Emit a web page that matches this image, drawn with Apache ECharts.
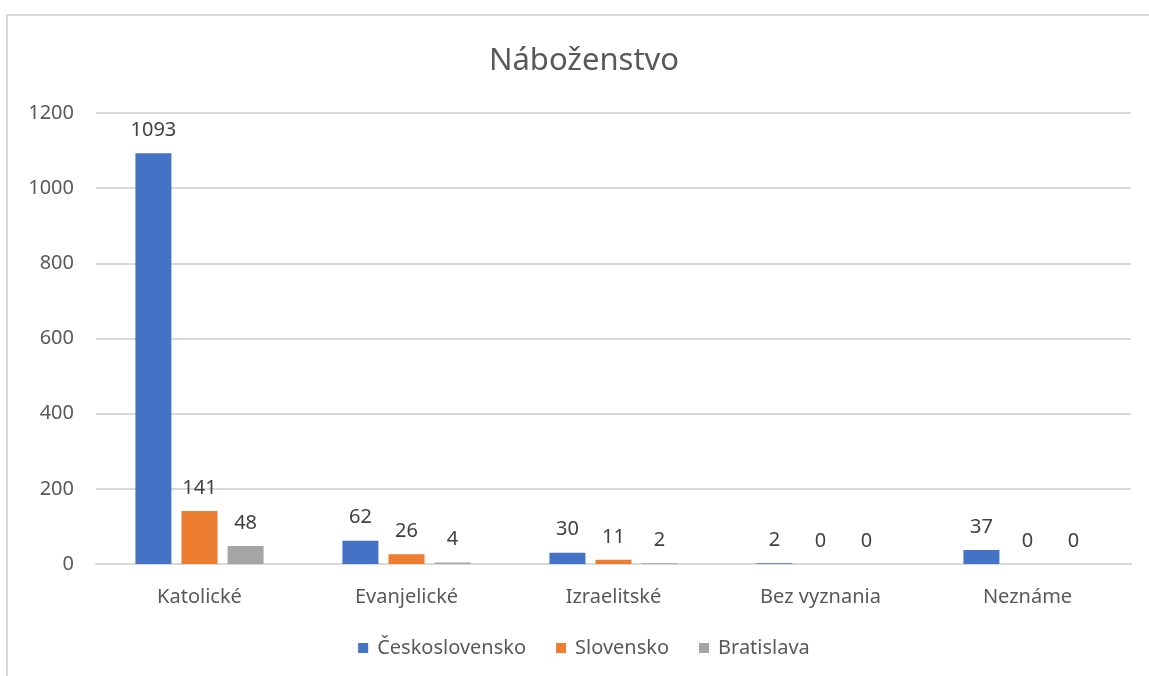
<!DOCTYPE html>
<html>
<head>
<meta charset="utf-8">
<script src="https://cdn.jsdelivr.net/npm/echarts@6/dist/echarts.min.js"></script>
<style>
  html, body { margin: 0; padding: 0; background: #fff; overflow: hidden; }
  .frame {
    position: absolute; left: 6px; top: 14px; width: 1300px; height: 800px;
    border: 2px solid #d9d9d9; box-sizing: border-box;
  }
  #chart { position: absolute; left: 0; top: 0; width: 1168px; height: 676px; }
</style>
</head>
<body>
<div class="frame"></div>
<div id="chart"></div>
<script>
const categories = ['Katolické', 'Evanjelické', 'Izraelitské', 'Bez vyznania', 'Neznáme']
const ceskoslovensko = [1093, 62, 30, 2, 37]
const slovensko = [141, 26, 11, 0, 0]
const bratislava = [48, 4, 2, 0, 0]
const yTicks = { min: 0, max: 1200, interval: 200 }

const font = '"Segoe UI", "Noto Sans", sans-serif'
const chart = echarts.init(document.getElementById('chart'))

const labelStyle = {
  show: true,
  position: 'top',
  distance: 13,
  color: '#404040',
  fontSize: 20,
  fontFamily: font,
}

function bar(name, data, color) {
  return {
    name,
    type: 'bar',
    data,
    barWidth: 36,
    barGap: '28%',
    itemStyle: { color },
    label: labelStyle,
  }
}

chart.setOption({
  animation: false,
  title: {
    text: 'Náboženstvo',
    left: 'center',
    top: 41,
    textStyle: { color: '#595959', fontSize: 31, fontWeight: 'normal', fontFamily: font },
  },
  legend: {
    data: ['Československo', 'Slovensko', 'Bratislava'],
    bottom: 13,
    left: 'center',
    icon: 'rect',
    itemWidth: 10,
    itemHeight: 10,
    itemGap: 30,
    textStyle: { color: '#595959', fontSize: 20, fontFamily: font, padding: [0, 0, 0, 4] },
  },
  grid: { left: 96, right: 37, top: 113, bottom: 112 },
  xAxis: {
    type: 'category',
    data: categories,
    axisLine: { lineStyle: { color: '#d9d9d9', width: 2 } },
    axisTick: { show: false },
    axisLabel: { color: '#595959', fontSize: 20, margin: 23, fontFamily: font },
  },
  yAxis: {
    type: 'value',
    min: yTicks.min,
    max: yTicks.max,
    interval: yTicks.interval,
    axisLine: { show: false },
    axisTick: { show: false },
    axisLabel: {
      color: '#595959', fontSize: 20, margin: 22, fontFamily: font,
      formatter: v => String(v),
    },
    splitLine: { lineStyle: { color: '#d9d9d9', width: 2 } },
  },
  series: [
    bar('Československo', ceskoslovensko, '#4472c4'),
    bar('Slovensko', slovensko, '#ed7d31'),
    bar('Bratislava', bratislava, '#a5a5a5'),
  ],
})
</script>
</body>
</html>
